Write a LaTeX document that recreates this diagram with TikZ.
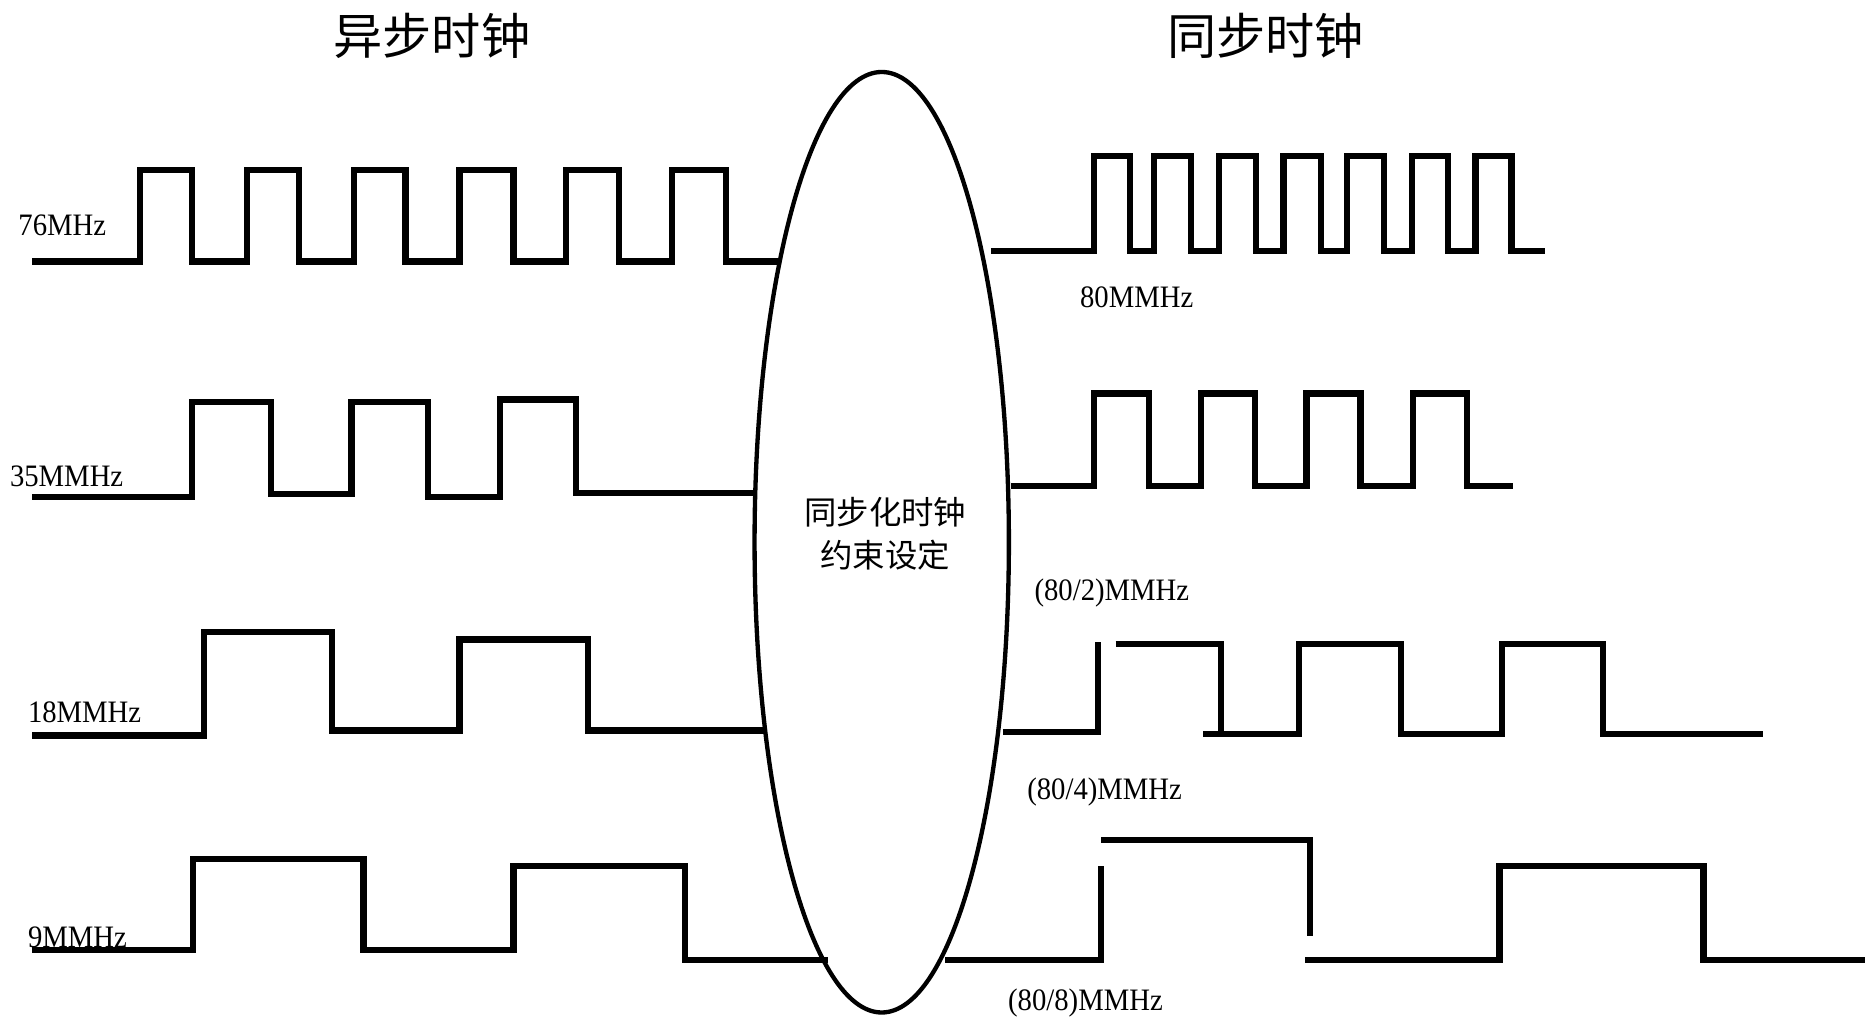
\documentclass[tikz,border=0pt]{standalone}
\usepackage{fontspec}
\setmainfont{Liberation Serif}
\newfontfamily\cjk{Noto Sans CJK SC}
\usetikzlibrary{shapes.geometric}
\begin{document}
\begin{tikzpicture}[x=0.5pt,y=-0.5pt,
  wave/.style={line width=2.6pt,line cap=butt,line join=miter},
  lbl/.style={font=\fontsize{13}{13}\selectfont,xscale=0.92,inner sep=0},
  ttl/.style={font=\cjk\fontsize{20.5}{20.5}\selectfont,inner sep=0},
  ctext/.style={font=\cjk\fontsize{13.5}{18}\selectfont,align=center,inner sep=0}]
\useasboundingbox (0,0) rectangle (1563,858);
\node[ttl] (t1) at (360,30) {异步时钟};
\node[ttl] (t2) at (1055,30) {同步时钟};
\node[draw,line width=1.8pt,ellipse,minimum width=212*0.5pt,minimum height=784*0.5pt,inner sep=0] (ell) at (735,452) {};
\node[ctext] (ct) at (738,445) {同步化时钟\\约束设定};
% left
\node[lbl,anchor=west] (l1) at (15,188) {76MHz};
\draw[wave] (27,218) -- (117,218) -- (117,142) -- (160,142) -- (160,218) -- (206,218) -- (206,142) -- (249,142) -- (249,218) -- (295,218) -- (295,142) -- (338,142) -- (338,218) -- (383,218) -- (383,142) -- (428,142) -- (428,218) -- (472,218) -- (472,142) -- (516,142) -- (516,218) -- (560,218) -- (560,142) -- (605,142) -- (605,218) -- (650,218);
\node[lbl,anchor=west] (l2) at (8,397) {35MMHz};
\draw[wave] (27,414) -- (160,414) -- (160,335) -- (226,335) -- (226,412) -- (293,412) -- (293,335) -- (357,335) -- (357,414) -- (417,414) -- (417,333) -- (480,333) -- (480,411) -- (628,411);
\node[lbl,anchor=west] (l3) at (23,594) {18MMHz};
\draw[wave] (27,613) -- (170,613) -- (170,527) -- (277,527) -- (277,609) -- (383,609) -- (383,533) -- (490,533) -- (490,609) -- (637,609);
\node[lbl,anchor=west] (l4) at (23,781) {9MMHz};
\draw[wave] (27,792) -- (161,792) -- (161,716) -- (303,716) -- (303,792) -- (428,792) -- (428,722) -- (571,722) -- (571,800) -- (690,800);
% right
\draw[wave] (826,209) -- (912,209) -- (912,130) -- (942,130) -- (942,209) -- (962,209) -- (962,130) -- (993,130) -- (993,209) -- (1016,209) -- (1016,130) -- (1047,130) -- (1047,209) -- (1070,209) -- (1070,130) -- (1101,130) -- (1101,209) -- (1123,209) -- (1123,130) -- (1154,130) -- (1154,209) -- (1177,209) -- (1177,130) -- (1207,130) -- (1207,209) -- (1230,209) -- (1230,130) -- (1260,130) -- (1260,209) -- (1288,209);
\node[lbl,anchor=west] (r1) at (900,248) {80MMHz};
\draw[wave] (843,405) -- (912,405) -- (912,328) -- (958,328) -- (958,405) -- (1001,405) -- (1001,328) -- (1046,328) -- (1046,405) -- (1089,405) -- (1089,328) -- (1134,328) -- (1134,405) -- (1178,405) -- (1178,328) -- (1223,328) -- (1223,405) -- (1261,405);
\node[lbl,anchor=west] (r2) at (862,494) {(80/2)MMHz};
\draw[wave] (836,610) -- (915,610) -- (915,535);
\draw[wave] (930,537) -- (1018,537) -- (1018,612);
\draw[wave] (1003,612) -- (1083,612) -- (1083,537) -- (1168,537) -- (1168,612) -- (1252,612) -- (1252,537) -- (1336,537) -- (1336,612) -- (1470,612);
\node[lbl,anchor=west] (r3) at (856,660) {(80/4)MMHz};
\draw[wave] (788,800) -- (918,800) -- (918,722);
\draw[wave] (918,700) -- (1092,700) -- (1092,780);
\draw[wave] (1088,800) -- (1250,800) -- (1250,722) -- (1420,722) -- (1420,800) -- (1555,800);
\node[lbl,anchor=west] (r4) at (840,836) {(80/8)MMHz};
\end{tikzpicture}
\end{document}
